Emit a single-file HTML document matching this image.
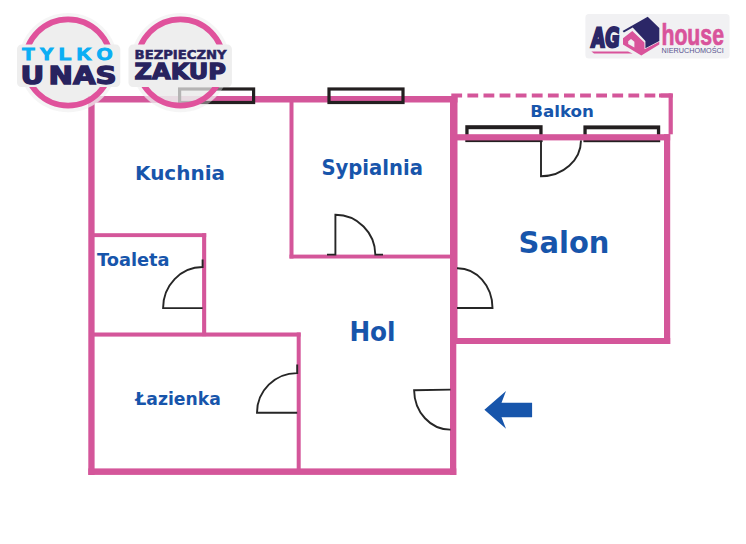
<!DOCTYPE html>
<html lang="pl">
<head>
<meta charset="utf-8">
<title>Rzut mieszkania</title>
<style>
html,body{margin:0;padding:0;background:#fff;}
body{width:746px;height:544px;overflow:hidden;position:relative;font-family:"Liberation Sans",sans-serif;}
svg{display:block;position:absolute;left:0;top:0;}
.room{font-family:"DejaVu Sans","Liberation Sans",sans-serif;font-weight:bold;fill:#1755ab;}
.wall{fill:#d4569a;}
.door{fill:none;stroke:#262626;stroke-width:1.9;stroke-linecap:butt;stroke-linejoin:miter;}
.win{fill:none;stroke:#231f20;stroke-width:3.2;}
.navy{fill:#28235f;}
</style>
</head>
<body>
<svg width="746" height="544" viewBox="0 0 746 544">
<rect x="0" y="0" width="746" height="544" fill="#ffffff"/>

<!-- salon windows (under wall) -->
<rect x="465.3" y="125.2" width="77.3" height="16.9" fill="#231f20"/>
<rect x="468.6" y="129.2" width="70.7" height="8" fill="#ffffff"/>
<rect x="583.4" y="125.4" width="76.8" height="16.8" fill="#231f20"/>
<rect x="586.7" y="129.3" width="70.2" height="8" fill="#ffffff"/>

<!-- walls -->
<g class="wall">
  <rect x="88.3" y="96" width="369.2" height="6.5"/>
  <rect x="88.3" y="96" width="6.3" height="379"/>
  <rect x="88.3" y="468.4" width="368" height="6.5"/>
  <rect x="450" y="96" width="7.5" height="248"/>
  <rect x="450" y="340" width="6.3" height="135"/>
  <rect x="289.5" y="100" width="4" height="158.5"/>
  <rect x="289.5" y="254.6" width="162" height="3.9"/>
  <rect x="92" y="233.2" width="114.2" height="3.9"/>
  <rect x="202.1" y="233.2" width="4.1" height="103"/>
  <rect x="92" y="332.5" width="208.6" height="4.1"/>
  <rect x="296.7" y="332.5" width="4" height="138"/>
  <rect x="455" y="134.2" width="215.2" height="6.2"/>
  <rect x="664" y="134.2" width="6.2" height="209.8"/>
  <rect x="455" y="338" width="215.2" height="6"/>
  <rect x="668.6" y="93.5" width="4.2" height="40.8"/>
</g>
<line x1="451.3" y1="95.5" x2="672.8" y2="95.5" stroke="#d4569a" stroke-width="3.9" stroke-dasharray="10.8 5.3"/>
<rect x="659" y="93.55" width="13.8" height="3.9" class="wall"/>

<!-- wall fade under badges -->
<clipPath id="b1clip"><circle cx="68.1" cy="62.6" r="49.2"/></clipPath>
<clipPath id="b2clip"><circle cx="180.4" cy="62.6" r="49.2"/></clipPath>
<g fill="#f6f6f6" fill-opacity="0.6">
  <path d="M88.3 96 H130 V102.5 H94.6 V116 H88.3 Z" clip-path="url(#b1clip)"/>
  <rect x="128" y="96" width="104" height="6.5" clip-path="url(#b2clip)"/>
</g>

<!-- windows -->
<rect class="win" x="179.6" y="89" width="74" height="13.5"/>
<rect class="win" x="329" y="89" width="74" height="13.5"/>

<!-- doors -->
<path class="door" d="M202.6 259.5 L202.6 267 A39.5 41 0 0 0 163.1 308.1 L202.6 308.1"/>
<path class="door" d="M297.2 364.5 L297.2 373.1 A40 39.7 0 0 0 257 412.8 L297.2 412.8"/>
<path class="door" d="M327 254.6 L335.4 254.6 L335.4 214.8 A40 40 0 0 1 375.3 254.6 L383 254.6"/>
<path class="door" d="M457 308 L492.5 308 A35 40 0 0 0 457 268.2"/>
<path class="door" d="M450.5 389.6 L414.1 390.2 A36 40 0 0 0 450.5 429.6"/>
<path class="door" d="M541 141 L541 176.2 A40 36 0 0 0 581 140.4"/>

<!-- room labels -->
<text class="room" x="135" y="180.4" font-size="20" textLength="90" lengthAdjust="spacingAndGlyphs">Kuchnia</text>
<text class="room" x="321.4" y="175.1" font-size="21.2" textLength="101.6" lengthAdjust="spacingAndGlyphs">Sypialnia</text>
<text class="room" x="97" y="265.9" font-size="18.3" textLength="72.6" lengthAdjust="spacingAndGlyphs">Toaleta</text>
<text class="room" x="135.3" y="404.9" font-size="17.8" textLength="85.5" lengthAdjust="spacingAndGlyphs">Łazienka</text>
<text class="room" x="349.4" y="340.8" font-size="26.2" textLength="46.2" lengthAdjust="spacingAndGlyphs">Hol</text>
<text class="room" x="518.6" y="253" font-size="30.8" textLength="90.8" lengthAdjust="spacingAndGlyphs">Salon</text>
<text class="room" x="530.2" y="117" font-size="16.3" textLength="63.8" lengthAdjust="spacingAndGlyphs">Balkon</text>

<!-- arrow -->
<polygon points="484.4,409.8 506,391 501.5,402.7 532.1,402.7 532.1,417.2 501.5,417.2 506,428.8" fill="#1755ab"/>

<!-- badge 1 -->
<g>
  <circle cx="68.1" cy="62.6" r="49.6" fill="#e8e8e8" fill-opacity="0.42"/>
  <circle cx="68.1" cy="62.5" r="45" fill="#e8e8e8" fill-opacity="0.56"/>
  <circle cx="68.1" cy="62.5" r="43.1" fill="none" stroke="#e0529c" stroke-width="5.6"/>
  <rect x="17" y="44.6" width="103.3" height="42.4" rx="4.5" fill="#eeeeee"/>
  <g transform="translate(22.3 59.9) scale(1.26 1)"><text x="0" y="0" font-size="16" font-weight="bold" fill="#0baef4" stroke="#0baef4" stroke-width="1.1" textLength="71.6" lengthAdjust="spacing">TYLKO</text></g>
  <text x="20.6" y="83.7" font-family="DejaVu Sans,Liberation Sans,sans-serif" font-size="24.2" font-weight="bold" fill="#28235f" stroke="#28235f" stroke-width="1.3" stroke-linejoin="miter" word-spacing="-5" textLength="96" lengthAdjust="spacingAndGlyphs">U NAS</text>
</g>
<!-- badge 2 -->
<g>
  <circle cx="180.4" cy="62.6" r="49.6" fill="#e8e8e8" fill-opacity="0.42"/>
  <circle cx="180.4" cy="62.5" r="45" fill="#e8e8e8" fill-opacity="0.56"/>
  <circle cx="180.4" cy="62.5" r="43.1" fill="none" stroke="#e0529c" stroke-width="5.6"/>
  <rect x="128.5" y="44.6" width="103.4" height="42.4" rx="4.5" fill="#eeeeee"/>
  <text x="134.6" y="59" font-family="DejaVu Sans,Liberation Sans,sans-serif" font-size="12.1" font-weight="bold" fill="#28235f" stroke="#28235f" stroke-width="0.5" textLength="92" lengthAdjust="spacingAndGlyphs">BEZPIECZNY</text>
  <text x="134.6" y="79.4" font-family="DejaVu Sans,Liberation Sans,sans-serif" font-size="21.8" font-weight="bold" fill="#28235f" stroke="#28235f" stroke-width="1.3" stroke-linejoin="miter" textLength="91.4" lengthAdjust="spacingAndGlyphs">ZAKUP</text>
</g>

<!-- logo -->
<g>
  <rect x="585.4" y="14" width="144.2" height="44.4" rx="3.5" fill="#f1f1f3"/>
  <g transform="translate(590.8 46.9) skewX(-4)"><text x="0" y="0" font-family="DejaVu Sans Condensed,DejaVu Sans,Liberation Sans,sans-serif" font-size="26.6" font-weight="bold" fill="#2b2767" stroke="#2b2767" stroke-width="2.3" stroke-linejoin="miter" textLength="28.1" lengthAdjust="spacingAndGlyphs">AG</text></g>
  <polygon points="591.4,51.5 628,51.5 632.6,53.6 594,53.6" fill="#d9539b"/>
  <!-- house -->
  <polygon points="622.6,30.9 647.7,16.8 659.3,28 659.3,41 645.4,48.2 645.4,41 632.7,27.5 623.9,32.6" fill="#2b2767"/>
  <polygon points="632.3,30.9 623,38.2 623,44.6 641.3,55.5 659.3,44.6 659.3,41.7 644.6,49.2 644.4,42.4" fill="#d9539b"/>
  <polygon points="631,38.9 634.4,41.8 634.4,47.4 628.2,44.1 628.2,41.3" fill="#f1f1f3"/>
  <text x="661.4" y="44.5" font-size="28.6" font-weight="bold" fill="#d9539b" stroke="#d9539b" stroke-width="0.7" textLength="62.6" lengthAdjust="spacingAndGlyphs">house</text>
  <text x="661.5" y="53" font-size="6.7" fill="#5a5590" textLength="62.3" lengthAdjust="spacingAndGlyphs">NIERUCHOMOŚCI</text>
</g>
</svg>
</body>
</html>
